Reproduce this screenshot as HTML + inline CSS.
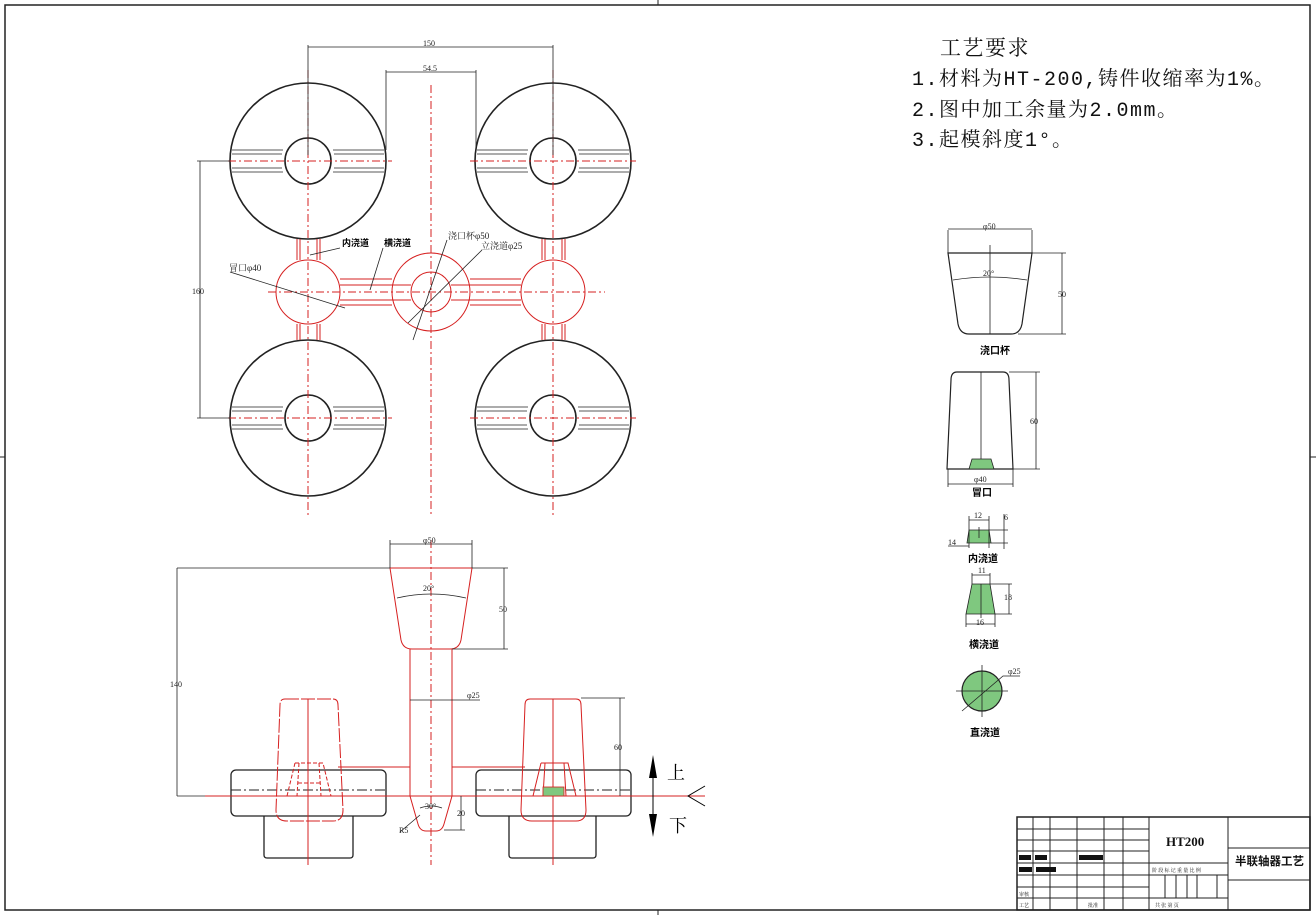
<!DOCTYPE html>
<html><head><meta charset="utf-8"><style>
html,body{margin:0;padding:0;background:#fff;}
svg{display:block;}
text{font-family:"Liberation Serif","Noto Serif CJK SC",serif;}
.k{stroke:#222;fill:none;stroke-width:1.6}
.t{stroke:#222;fill:none;stroke-width:0.8}
.r{stroke:#d62020;fill:none;stroke-width:1}
.rd{stroke:#d62020;fill:none;stroke-width:1;stroke-dasharray:8 3 2 3}
.g{fill:#7fc87f;stroke:#222;stroke-width:0.8}
.s{font-size:8px;fill:#222}
.lb{font-size:10px;font-weight:bold;fill:#000;font-family:"Liberation Sans","Noto Sans CJK SC",sans-serif}
.req{font-size:20px;fill:#111;font-family:'Liberation Mono','Noto Serif CJK SC',serif;letter-spacing:1.5px}
</style></head><body>
<svg width="1316" height="915" viewBox="0 0 1316 915" xmlns="http://www.w3.org/2000/svg">
<rect x="5" y="5" width="1305" height="905" fill="none" stroke="#222" stroke-width="1.5"/>
<line x1="658" y1="0" x2="658" y2="5" stroke="#222"/><line x1="658" y1="910" x2="658" y2="915" stroke="#222"/>
<line x1="0" y1="457" x2="5" y2="457" stroke="#222"/><line x1="1310" y1="457" x2="1316" y2="457" stroke="#222"/>

<g id="castings">
<g transform="translate(308,161)">
<circle r="78" class="k"/>
<path d="M-76,-11 H-25 M-76,11 H-25 M25,-11 H76 M25,11 H76 M-76,-7 H-26 M-76,7 H-26 M26,-7 H76 M26,7 H76" class="t"/><circle r="23" class="k"/>
</g>
<g transform="translate(553,161)">
<circle r="78" class="k"/>
<path d="M-76,-11 H-25 M-76,11 H-25 M25,-11 H76 M25,11 H76 M-76,-7 H-26 M-76,7 H-26 M26,-7 H76 M26,7 H76" class="t"/><circle r="23" class="k"/>
</g>
<g transform="translate(308,418)">
<circle r="78" class="k"/>
<path d="M-76,-11 H-25 M-76,11 H-25 M25,-11 H76 M25,11 H76 M-76,-7 H-26 M-76,7 H-26 M26,-7 H76 M26,7 H76" class="t"/><circle r="23" class="k"/>
</g>
<g transform="translate(553,418)">
<circle r="78" class="k"/>
<path d="M-76,-11 H-25 M-76,11 H-25 M25,-11 H76 M25,11 H76 M-76,-7 H-26 M-76,7 H-26 M26,-7 H76 M26,7 H76" class="t"/><circle r="23" class="k"/>
</g>
</g>
<circle cx="308" cy="292" r="32" class="r"/><circle cx="553" cy="292" r="32" class="r"/>
<circle cx="431" cy="292" r="39" class="r"/><circle cx="431" cy="292" r="20" class="r"/>
<path d="M340,279 H392 M340,305 H392 M340,285 H411 M340,300 H411 M451,285 H521 M451,300 H521 M470,279 H521 M470,305 H521" class="r"/>
<path d="M297,239 V260 M320,239 V260 M300,239 V260 M317,239 V260 M297,324 V340 M320,324 V340 M300,324 V340 M317,324 V340" class="r"/>
<path d="M542,239 V260 M565,239 V260 M545,239 V260 M562,239 V260 M542,324 V340 M565,324 V340 M545,324 V340 M562,324 V340" class="r"/>
<path d="M431,85 V515 M308,70 V515 M553,70 V515" class="rd"/>
<path d="M228,161 H392 M470,161 H636 M228,418 H392 M470,418 H636 M268,292 H605" class="rd"/>
<path d="M308,45 V155 M553,45 V155 M308,47 H553 M386,70 V150 M476,70 V150 M386,72 H476 M197,161 H230 M197,418 H230 M200,161 V418" class="t"/>
<text x="423" y="46" class="s">150</text><text x="423" y="71" class="s">54.5</text>
<text x="192" y="294" class="s">160</text>
<path d="M230,272 L345,308 M310,255 L340,248 M370,290 L383,248 M413,340 L447,240 M408,323 L482,250" class="t"/>
<text x="229" y="271" class="s" style="font-size:9px">冒口φ40</text>
<text x="342" y="246" class="lb" style="font-size:9px">内浇道</text>
<text x="384" y="246" class="lb" style="font-size:9px">横浇道</text>
<text x="448" y="239" class="s" style="font-size:9px">浇口杯φ50</text>
<text x="481" y="249" class="s" style="font-size:9px">立浇道φ25</text>

<g class="k" style="stroke-width:1.3">
<rect x="231" y="770" width="155" height="46" rx="5"/>
<path d="M264,816 V855 Q264,858 267,858 H350 Q353,858 353,855 V816"/>
<rect x="476" y="770" width="155" height="46" rx="5"/>
<path d="M509,816 V855 Q509,858 512,858 H593 Q596,858 596,855 V816"/>
</g>
<path d="M231,790 H386 M476,790 H631" stroke="#222" stroke-width="1" stroke-dasharray="10 3 2 3"/>
<path d="M205,796 H705" class="r"/>
<path d="M390,568 H472 L461,640 Q459,649 450,649 H412 Q403,649 401,640 Z" class="r"/>
<path d="M410,649 V796 L418,824 Q420,831 426,831 H436 Q442,831 444,824 L452,796 V649" class="r"/>
<path d="M338,767 H410 M452,767 H525" class="r"/>
<path d="M431,540 V865" class="rd"/>
<path d="M285,699 H333 Q338,699 338,705 L343,810 Q343,821 333,821 H287 Q276,821 276,810 L280,705 Q280,699 285,699 Z" class="r" stroke-dasharray="14 2"/>
<path d="M530,699 H576 Q581,699 581,705 L586,810 Q586,821 576,821 H532 Q521,821 521,810 L525,705 Q525,699 530,699 Z" class="r"/>
<path d="M308,699 V865 M553,699 V865" class="r"/>
<path d="M295,763 H323 L331,796 M295,763 L287,796 M299,763 L297,796 M319,763 L321,796 M298,783 H320" class="r" stroke-dasharray="4 2"/>
<path d="M541,763 H568 L576,796 M541,763 L533,796 M545,763 L543,796 M564,763 L566,796" class="r"/>
<rect x="543" y="787" width="21" height="9" fill="#7fc87f" stroke="#d62020" stroke-width="0.8"/>
<path d="M390,540 V568 M472,540 V568 M390,544 H472 M177,568 H390 M177,796 H205 M177,568 V796 M472,568 H508 M452,649 H508 M504,568 V649 M410,700 H452 M452,700 H480 M581,698 H625 M620,698 V796 M444,830 H465 M461,796 V830 M400,832 L420,815" class="t"/>
<path d="M397,598 Q431,590 466,598 M420,808 Q431,804 442,808" class="t"/>
<text x="423" y="543" class="s">φ50</text><text x="423" y="591" class="s">20°</text>
<text x="499" y="612" class="s">50</text><text x="170" y="687" class="s">140</text>
<text x="467" y="698" class="s">φ25</text><text x="614" y="750" class="s">60</text>
<text x="425" y="809" class="s">30°</text><text x="457" y="816" class="s">20</text><text x="399" y="833" class="s">R5</text>
<path d="M653,758 V834" stroke="#000" stroke-width="1"/>
<path d="M653,755 L649,778 H657 Z M653,837 L649,814 H657 Z" fill="#000"/>
<text x="667" y="779" style="font-size:18px;fill:#000">上</text>
<text x="669" y="832" style="font-size:18px;fill:#000">下</text>
<path d="M705,786 L688,796 L705,806" stroke="#000" fill="none"/>

<text x="940" y="55" class="req" style="font-size:21px">工艺要求</text>
<text x="912" y="85" class="req">1.材料为HT-200,铸件收缩率为1%。</text>
<text x="912" y="116" class="req">2.图中加工余量为2.0mm。</text>
<text x="912" y="146" class="req">3.起模斜度1°。</text>

<path d="M948,253 H1032 L1022,324 Q1020,334 1011,334 H969 Q960,334 958,324 Z" class="k" style="stroke-width:1.2"/>
<path d="M990,245 V334 M948,230 V253 M1032,230 V253 M948,229 H1032 M1032,253 H1066 M1018,334 H1066 M1062,253 V334" class="t"/>
<path d="M953,280 Q990,274 1027,280" class="t"/>
<text x="983" y="229" class="s">φ50</text><text x="983" y="276" class="s">20°</text><text x="1058" y="297" class="s">50</text>
<text x="980" y="354" class="lb">浇口杯</text>

<path d="M957,372 H1003 Q1009,372 1009,380 L1013,469 H947 L951,380 Q951,372 957,372 Z" class="k" style="stroke-width:1.2"/>
<path d="M981,372 V462 M1009,372 H1040 M1013,469 H1040 M1036,372 V469 M948,469 V487 M1013,469 V487 M948,484 H1013" class="t"/>
<path d="M972,459 H991 L994,469 H969 Z" class="g"/>
<text x="1030" y="424" class="s">60</text><text x="974" y="482" class="s">φ40</text>
<text x="972" y="496" class="lb">冒口</text>

<path d="M969,530 H989 L991,543 H967 Z" class="g"/>
<path d="M979,527 V538 M969,516 V548 M989,516 V548 M969,520 H989 M989,530 H1008 M991,543 H1008 M1004,514 V549 M948,546 H969" class="t"/>
<text x="974" y="518" class="s">12</text><text x="1004" y="520" class="s">6</text><text x="948" y="545" class="s">14</text>
<text x="968" y="562" class="lb">内浇道</text>

<path d="M972,584 H990 L995,614 H966 Z" class="g"/>
<path d="M981,584 V618 M972,573 V584 M990,573 V584 M972,575 H990 M990,584 H1012 M995,614 H1012 M1009,584 V614 M966,614 V627 M995,614 V627 M966,624 H995" class="t"/>
<text x="978" y="573" class="s">11</text><text x="1004" y="600" class="s">18</text><text x="976" y="625" class="s">16</text>
<text x="969" y="648" class="lb">横浇道</text>

<circle cx="982" cy="691" r="20" class="g" style="stroke-width:1.2"/>
<path d="M982,665 V717 M956,691 H1008 M962,711 L1003,676 H1020" class="t"/>
<text x="1008" y="674" class="s">φ25</text>
<text x="970" y="736" class="lb">直浇道</text>

<g stroke="#222" fill="none" stroke-width="1">
<rect x="1017" y="817" width="293" height="93" stroke-width="1.5"/>
<path d="M1149,817 V910 M1228,817 V910 M1228,848 H1310 M1228,880 H1310"/>
<path d="M1017,829 H1149 M1017,840 H1149 M1017,851 H1149 M1017,863 H1149 M1017,875 H1149 M1017,887 H1149 M1017,898 H1149"/>
<path d="M1033,817 V910 M1050,817 V910 M1077,817 V910 M1104,817 V910 M1123,817 V910"/>
<path d="M1149,863 H1228 M1149,875 H1228 M1149,898 H1228 M1165,875 V898 M1176,875 V898 M1187,875 V898 M1197,875 V898 M1217,875 V898"/>
</g>
<g fill="#111">
<rect x="1019" y="855" width="12" height="5"/><rect x="1035" y="855" width="12" height="5"/><rect x="1079" y="855" width="24" height="5"/>
<rect x="1019" y="867" width="13" height="5"/><rect x="1036" y="867" width="20" height="5"/>
</g>
<text x="1166" y="846" style="font-size:13px;font-weight:bold;fill:#111">HT200</text>
<text x="1235" y="865" style="font-size:11.5px;font-weight:bold;fill:#111;font-family:'Liberation Sans','Noto Sans CJK SC',sans-serif">半联轴器工艺</text>
<text x="1152" y="872" style="font-size:5px;fill:#111">阶 段 标 记  重 量  比 例</text>
<text x="1155" y="907" style="font-size:5px;fill:#111">共    张   第    页</text>
<text x="1019" y="896" style="font-size:5px;fill:#111">审核</text><text x="1019" y="907" style="font-size:5px;fill:#111">工艺</text>
<text x="1088" y="907" style="font-size:5px;fill:#111">批准</text>
</svg>
</body></html>
